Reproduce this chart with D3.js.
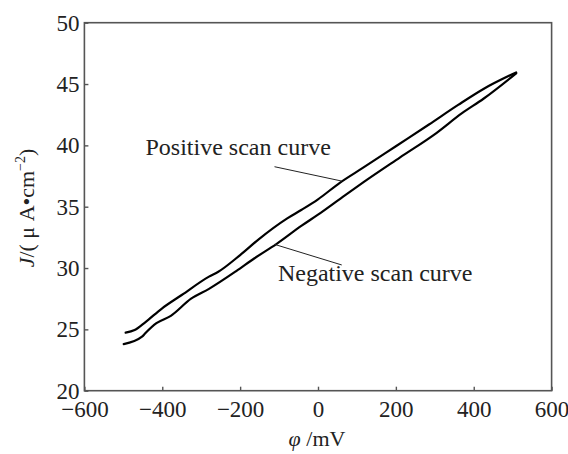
<!DOCTYPE html>
<html>
<head>
<meta charset="utf-8">
<script src="https://cdn.jsdelivr.net/npm/d3@7"></script>
<style>
  body { margin: 0; background: #fff; }
  svg text { font-family: "Liberation Serif", "Times New Roman", serif; fill: #222; }
</style>
</head>
<body>
<svg id="chart" width="568" height="454"></svg>
<script>
// positive scan (upper branch)
var posX = [-494, -471, -443, -401, -350, -280, -256, -200, -154, -79, -42, 0, 56, 117, 201, 285, 360, 425, 509];
var posJ = [24.73, 24.95, 25.6, 26.7, 27.8, 29.3, 29.7, 31.06, 32.3, 34.05, 34.75, 35.6, 36.95, 38.2, 39.95, 41.7, 43.3, 44.6, 45.95];

// negative scan (lower branch)
var negX = [-499, -452, -443, -415, -378, -326, -280, -210, -163, -107, -42, 0, 70, 117, 210, 304, 369, 425, 509];
var negJ = [23.8, 24.4, 24.7, 25.5, 26.1, 27.5, 28.3, 29.75, 30.8, 31.95, 33.45, 34.35, 35.95, 37.0, 39.0, 41.0, 42.6, 43.8, 45.87];

var xTicks = [-600, -400, -200, 0, 200, 400, 600];
var yTicks = [20, 25, 30, 35, 40, 45, 50];

// annotation text + leader line (data coords)
var labels = [
  { text: "Positive scan curve", x: -443, y: 39.2, lx: [-111.7, 61], ly: [38.26, 37.09] },
  { text: "Negative scan curve", x: -103, y: 28.94, lx: [-111.7, 61], ly: [31.93, 30.25] }
];

var LEFT = 84.4, RIGHT = 551.6, TOP = 22.7, BOTTOM = 390.7;

var svg = d3.select("#chart");

var x = d3.scaleLinear().domain([-600, 600]).range([LEFT, RIGHT]);
var y = d3.scaleLinear().domain([20, 50]).range([BOTTOM, TOP]);

// frame
svg.append("rect")
  .attr("x", LEFT).attr("y", TOP)
  .attr("width", RIGHT - LEFT).attr("height", BOTTOM - TOP)
  .attr("fill", "none").attr("stroke", "#555").attr("stroke-width", 1.6);

var xAxis = svg.append("g")
  .attr("transform", "translate(0," + BOTTOM + ")")
  .call(d3.axisBottom(x).tickValues(xTicks).tickSizeInner(-4).tickSizeOuter(0).tickPadding(10));

var yAxis = svg.append("g")
  .attr("transform", "translate(" + LEFT + ",0)")
  .call(d3.axisLeft(y).tickValues(yTicks).tickSizeInner(-4).tickSizeOuter(0).tickPadding(5));

[xAxis, yAxis].forEach(function(g) {
  g.select(".domain").remove();
  g.selectAll(".tick line").attr("stroke", "#555").attr("stroke-width", 1.4);
  g.selectAll(".tick text").attr("font-size", 23).attr("fill", "#222")
    .style("font-family", "'Liberation Serif', serif");
});

// curves
var line = d3.line()
  .x(function(d) { return x(d[0]); })
  .y(function(d) { return y(d[1]); })
  .curve(d3.curveMonotoneX);

function pairs(xs, ys) {
  return xs.map(function(v, i) { return [v, ys[i]]; });
}

svg.append("path")
  .datum(pairs(posX, posJ))
  .attr("d", line)
  .attr("fill", "none").attr("stroke", "#000").attr("stroke-width", 2.2)
  .attr("stroke-linecap", "round");

svg.append("path")
  .datum(pairs(negX, negJ))
  .attr("d", line)
  .attr("fill", "none").attr("stroke", "#000").attr("stroke-width", 2.2)
  .attr("stroke-linecap", "round");

// annotations
labels.forEach(function(l) {
  svg.append("line")
    .attr("x1", x(l.lx[0])).attr("y1", y(l.ly[0]))
    .attr("x2", x(l.lx[1])).attr("y2", y(l.ly[1]))
    .attr("stroke", "#222").attr("stroke-width", 1);
  svg.append("text")
    .attr("x", x(l.x)).attr("y", y(l.y))
    .attr("font-size", 24)
    .text(l.text);
});

// axis titles
var xt = svg.append("text")
  .attr("x", 317).attr("y", 446)
  .attr("text-anchor", "middle")
  .attr("font-size", 22);
xt.append("tspan").attr("font-style", "italic").text("φ");
xt.append("tspan").text(" /mV");

var yt = svg.append("text")
  .attr("transform", "translate(34,208) rotate(-90)")
  .attr("text-anchor", "middle")
  .attr("font-size", 22);
yt.append("tspan").attr("font-style", "italic").text("J");
yt.append("tspan").text("/( μ A•cm");
yt.append("tspan").attr("font-size", 14).attr("dy", -9).text("−2");
yt.append("tspan").attr("dy", 9).text(")");
</script>
</body>
</html>
